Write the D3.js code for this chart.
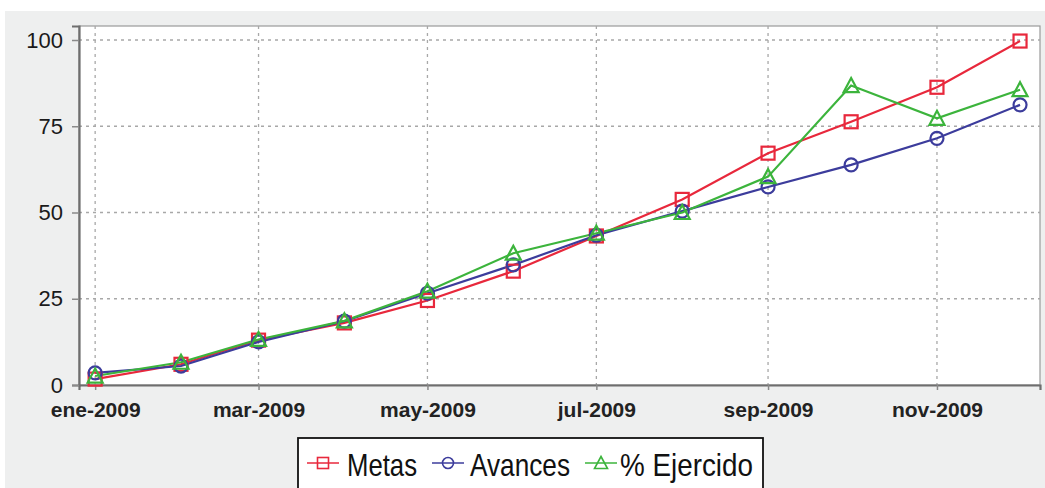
<!DOCTYPE html>
<html>
<head>
<meta charset="utf-8">
<script src="https://cdn.jsdelivr.net/npm/d3@7"></script>
<style>
  body { margin: 0; padding: 0; background: #ffffff; }
  svg { display: block; }
</style>
</head>
<body>
<div id="main"></div>
<script>
// month index (0 = ene) of every point
const months = [0, 1, 2, 3, 4, 5, 6, 7, 8, 9, 10, 11];
const metas = [1.7, 6, 13, 18, 24.5, 33, 43.2, 53.8, 67.2, 76.3, 86.3, 99.7];
const avances = [3.5, 5.5, 12.5, 18.5, 26.6, 34.8, 43.4, 50.4, 57.4, 63.8, 71.5, 81.2];
const ejercido = [2.6, 6.6, 13.2, 18.6, 27.2, 38.2, 44, 50, 60.4, 86.8, 77.3, 85.6];
const yTicks = [0, 25, 50, 75, 100];
const xTickMonths = [0, 2, 4, 6, 8, 10];
const monthNames = ['ene', 'feb', 'mar', 'abr', 'may', 'jun', 'jul', 'ago', 'sep', 'oct', 'nov', 'dic'];
const seriesNames = ['Metas', 'Avances', '% Ejercido'];
const seriesColors = ['#e8283c', '#3c3c9c', '#3cb43c'];
const seriesShapes = ['square', 'circle', 'triangle'];

const WIDTH = 1045;
const HEIGHT = 488;
const plot = {left: 79, top: 26, right: 1040, bottom: 385};

const series = [metas, avances, ejercido].map((vals, k) => ({
    name: seriesNames[k],
    color: seriesColors[k],
    shape: seriesShapes[k],
    points: vals.map((v, i) => ({date: new Date(2009, months[i], 1), value: v}))
}));

const svg = d3.select('#main').append('svg').attr('width', WIDTH).attr('height', HEIGHT);

// outer panel
svg.append('rect').attr('x', 5).attr('y', 11).attr('width', WIDTH - 5).attr('height', HEIGHT - 11).attr('fill', '#eeefef');
svg.append('rect')
    .attr('x', plot.left).attr('y', plot.top)
    .attr('width', plot.right - plot.left).attr('height', plot.bottom - plot.top)
    .attr('fill', '#ffffff').attr('stroke', '#9a9a9a').attr('stroke-width', 1.2);

const x = d3.scaleTime()
    .domain([new Date(2008, 11, 26, 4), new Date(2009, 11, 8, 5)])
    .range([plot.left, plot.right]);
const y = d3.scaleLinear().domain([0, 104.06]).range([plot.bottom, plot.top]);

const xTicks = xTickMonths.map((m) => new Date(2009, m, 1));

// grid
const grid = svg.append('g').attr('stroke', '#a8a8a8').attr('stroke-width', 1.3).attr('stroke-dasharray', '3,4');
grid.selectAll('.gx').data(xTicks).enter().append('line')
    .attr('x1', (d) => x(d)).attr('x2', (d) => x(d))
    .attr('y1', plot.top).attr('y2', plot.bottom);
grid.selectAll('.gy').data(yTicks.filter((t) => t > 0)).enter().append('line')
    .attr('x1', plot.left).attr('x2', plot.right)
    .attr('y1', (d) => y(d)).attr('y2', (d) => y(d));

// axes
const axisX = d3.axisBottom(x).tickValues(xTicks).tickSize(5).tickPadding(12)
    .tickFormat((d) => `${monthNames[d.getMonth()]}-${d.getFullYear()}`);
const gx = svg.append('g').attr('transform', `translate(0, ${plot.bottom})`).call(axisX);
gx.select('.domain').attr('stroke', '#6e6e6e').attr('stroke-width', 2.2);
gx.selectAll('.tick line').attr('stroke', '#8a8a8a').attr('stroke-width', 1.5);
gx.selectAll('.tick text').attr('font-family', 'Liberation Sans, Arial, sans-serif')
    .attr('font-size', 21).attr('font-weight', 'bold').attr('fill', '#222222');

const axisY = d3.axisLeft(y).tickValues(yTicks).tickSize(7).tickPadding(9);
const gy = svg.append('g').attr('transform', `translate(${plot.left}, 0)`).call(axisY);
gy.select('.domain').attr('stroke', '#6e6e6e').attr('stroke-width', 2.2);
gy.selectAll('.tick line').attr('stroke', '#8a8a8a').attr('stroke-width', 1.5);
gy.selectAll('.tick text').attr('font-family', 'Liberation Sans, Arial, sans-serif')
    .attr('font-size', 22).attr('fill', '#1a1a1a');

// markers
const drawMarker = (sel, shape, color, size) => {
    const r = size / 2;
    if (shape === 'square') {
        sel.append('rect').attr('x', -r).attr('y', -r).attr('width', size).attr('height', size);
    } else if (shape === 'circle') {
        sel.append('circle').attr('r', r);
    } else {
        sel.append('path').attr('d', `M0,${-r - 1}L${r + 1},${r}L${-r - 1},${r}Z`);
    }
    sel.attr('fill', 'none').attr('stroke', color).attr('stroke-width', 2.2);
};

const line = d3.line().x((d) => x(d.date)).y((d) => y(d.value));

series.forEach((s) => {
    svg.append('path').datum(s.points)
        .attr('d', line).attr('fill', 'none')
        .attr('stroke', s.color).attr('stroke-width', 2.2);
});
series.forEach((s) => {
    svg.append('g').selectAll('g').data(s.points).enter().append('g')
        .attr('transform', (d) => `translate(${x(d.date)}, ${y(d.value)})`)
        .each(function () { drawMarker(d3.select(this), s.shape, s.color, 13); });
});

// legend
const legend = svg.append('g');
legend.append('rect').attr('x', 298).attr('y', 438).attr('width', 465).attr('height', 60)
    .attr('fill', '#ffffff').attr('stroke', '#111111').attr('stroke-width', 1.8);
const legendX = [307, 432, 585];
const legendTextX = [347, 470, 620];
const legendTextW = [70, 100, 133];
series.forEach((s, k) => {
    const g = legend.append('g').attr('transform', `translate(${legendX[k]}, 463)`);
    g.append('line').attr('x1', 0).attr('x2', 32).attr('y1', 0).attr('y2', 0)
        .attr('stroke', s.color).attr('stroke-width', 1.5);
    const m = g.append('g').attr('transform', 'translate(16, 0)');
    drawMarker(m, s.shape, s.color, 11);
    m.attr('stroke-width', 1.6);
    legend.append('text').attr('x', legendTextX[k]).attr('y', 476).text(s.name)
        .attr('textLength', legendTextW[k]).attr('lengthAdjust', 'spacingAndGlyphs')
        .attr('font-family', 'Liberation Sans, Arial, sans-serif')
        .attr('font-size', 32).attr('fill', '#111111');
});
</script>
</body>
</html>
